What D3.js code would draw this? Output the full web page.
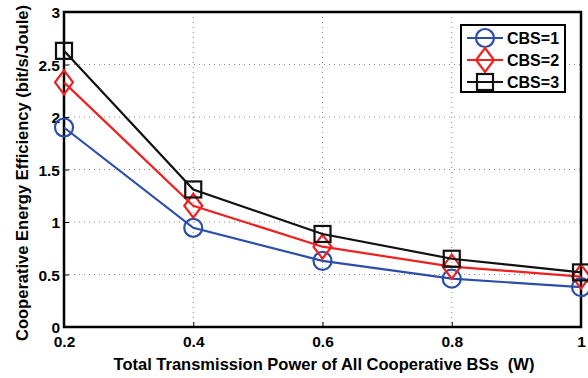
<!DOCTYPE html>
<html>
<head>
<meta charset="utf-8">
<script src="https://cdn.jsdelivr.net/npm/d3@7"></script>
<style>
  html, body { margin: 0; padding: 0; background: #fff; }
  svg { display: block; font-family: "Liberation Sans", Arial, Helvetica, sans-serif; font-weight: bold; }
</style>
</head>
<body>
<svg id="chart" width="588" height="378"></svg>
<script>
// Transmission power (W) on the x axis
const power = [0.2, 0.4, 0.6, 0.8, 1.0];
// Cooperative energy efficiency (bit/s/Joule) per number of cooperating BSs
const cbs1 = [1.90, 0.945, 0.63, 0.46, 0.38];
const cbs2 = [2.33, 1.155, 0.765, 0.575, 0.48];
const cbs3 = [2.63, 1.31, 0.886, 0.65, 0.52];
const seriesNames = ["CBS=1", "CBS=2", "CBS=3"];
const xTicks = [0.2, 0.4, 0.6, 0.8, 1.0];
const xTickLabels = ["0.2", "0.4", "0.6", "0.8", "1"];
const yTicks = [0, 0.5, 1, 1.5, 2, 2.5, 3];
const yTickLabels = ["0", "0.5", "1", "1.5", "2", "2.5", "3"];

const svg = d3.select("#chart");
const plotL = 64, plotR = 581, plotT = 12, plotB = 327;

const x = d3.scaleLinear().domain([0.2, 1.0]).range([plotL, plotR]);
const y = d3.scaleLinear().domain([0, 3]).range([plotB, plotT]);

// dotted grid
const grid = svg.append("g");
grid.selectAll("line.gx").data(xTicks.slice(1, -1)).join("line")
  .attr("x1", d => x(d)).attr("x2", d => x(d))
  .attr("y1", plotT).attr("y2", plotB)
  .attr("stroke", "#8a8a8a").attr("stroke-width", 1).attr("stroke-dasharray", "1,4");
grid.selectAll("line.gy").data(yTicks.slice(1, -1)).join("line")
  .attr("y1", d => y(d)).attr("y2", d => y(d))
  .attr("x1", plotL).attr("x2", plotR)
  .attr("stroke", "#8a8a8a").attr("stroke-width", 1).attr("stroke-dasharray", "1,4");

// axes with inward ticks
const xAxis = d3.axisBottom(x).tickValues(xTicks).tickSize(-5).tickPadding(10)
  .tickFormat((d, i) => xTickLabels[i]);
const yAxis = d3.axisLeft(y).tickValues(yTicks).tickSize(-5).tickPadding(4)
  .tickFormat((d, i) => yTickLabels[i]);

const gx = svg.append("g").attr("transform", `translate(0,${plotB})`).call(xAxis);
const gy = svg.append("g").attr("transform", `translate(${plotL},0)`).call(yAxis);
[gx, gy].forEach(g => {
  g.select(".domain").remove();
  g.selectAll(".tick line").attr("stroke", "#000").attr("stroke-width", 1);
  g.selectAll(".tick text").attr("fill", "#000").style("font-size", "15.5px")
    .style("font-family", "Liberation Sans, Arial, sans-serif").style("font-weight", "bold");
});
gx.selectAll(".tick text").attr("dy", "0.62em");
gy.selectAll(".tick text").attr("dy", "0.36em");

// frame
svg.append("rect").attr("x", plotL).attr("y", plotT)
  .attr("width", plotR - plotL).attr("height", plotB - plotT)
  .attr("fill", "none").attr("stroke", "#000").attr("stroke-width", 2.5);

// series
const colors = ["#2b4ea8", "#f02020", "#111111"];
const series = [cbs1, cbs2, cbs3];
const line = d3.line().x((d, i) => x(power[i])).y(d => y(d));

function marker(g, k, cx, cy, color) {
  if (k === 0) {
    g.append("circle").attr("cx", cx).attr("cy", cy).attr("r", 9)
      .attr("fill", "none").attr("stroke", color).attr("stroke-width", 2.2);
  } else if (k === 1) {
    g.append("path")
      .attr("d", `M${cx},${cy - 12}L${cx + 9},${cy}L${cx},${cy + 12}L${cx - 9},${cy}Z`)
      .attr("fill", "none").attr("stroke", color).attr("stroke-width", 2.2);
  } else {
    g.append("rect").attr("x", cx - 8).attr("y", cy - 8).attr("width", 16).attr("height", 16)
      .attr("fill", "none").attr("stroke", color).attr("stroke-width", 2.2);
  }
}

series.forEach((vals, k) => {
  const g = svg.append("g");
  g.append("path").datum(vals).attr("d", line)
    .attr("fill", "none").attr("stroke", colors[k]).attr("stroke-width", 2.2);
  vals.forEach((v, i) => marker(g, k, x(power[i]), y(v), colors[k]));
});

// legend
const lg = svg.append("g");
lg.append("rect").attr("x", 461).attr("y", 25).attr("width", 104).attr("height", 67)
  .attr("fill", "#fff").attr("stroke", "#000").attr("stroke-width", 2);
seriesNames.forEach((name, k) => {
  const ly = 38 + k * 22;
  lg.append("line").attr("x1", 467).attr("x2", 503).attr("y1", ly).attr("y2", ly)
    .attr("stroke", colors[k]).attr("stroke-width", 2.2);
  marker(lg, k, 485, ly, colors[k]);
  lg.append("text").attr("x", 507).attr("y", ly).attr("dy", "0.36em")
    .style("font-size", "16px").attr("fill", "#000").text(name);
});

// axis titles
svg.append("text").attr("x", 324).attr("y", 370)
  .attr("text-anchor", "middle").style("font-size", "16.5px").attr("fill", "#000")
  .text("Total Transmission Power of All Cooperative BSs\u00a0 (W)");
svg.append("text")
  .attr("transform", "translate(28,173) rotate(-90)")
  .attr("text-anchor", "middle").style("font-size", "16.5px").attr("fill", "#000")
  .attr("textLength", 336).attr("lengthAdjust", "spacingAndGlyphs")
  .text("Cooperative Energy Efficiency (bit/s/Joule)");
</script>
</body>
</html>
